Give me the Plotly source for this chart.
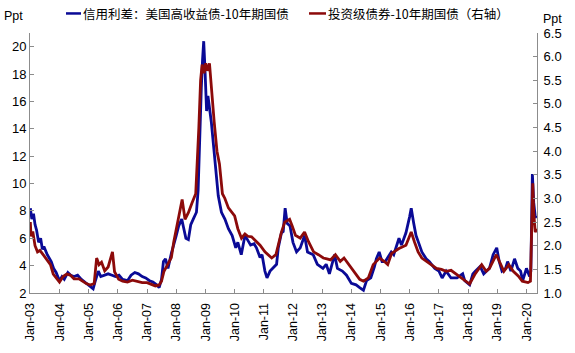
import plotly.graph_objects as go

# 信用利差：美国高收益债-10年期国债 (左轴, Ppt)
hy_dates = [
    "2003-01-01", "2003-01-20", "2003-02-10", "2003-03-01", "2003-03-20", "2003-04-15", "2003-05-10",
    "2003-06-01", "2003-06-20", "2003-08-01", "2003-09-20", "2003-10-20", "2003-11-20", "2004-01-01",
    "2004-02-01", "2004-03-01", "2004-04-15", "2004-05-20", "2004-07-01", "2004-08-15", "2004-10-01",
    "2004-11-15", "2005-01-01", "2005-02-25", "2005-03-20", "2005-05-01", "2005-06-01", "2005-07-15",
    "2005-09-01", "2005-10-20", "2005-12-01", "2006-01-15", "2006-03-01", "2006-05-01", "2006-06-15",
    "2006-08-01", "2006-09-15", "2006-11-01", "2006-12-15", "2007-02-01", "2007-03-15", "2007-05-01",
    "2007-06-01", "2007-07-01", "2007-07-25", "2007-08-20", "2007-09-20", "2007-11-01", "2007-11-25",
    "2008-01-01", "2008-02-01", "2008-03-10", "2008-04-01", "2008-05-01", "2008-06-01", "2008-07-01",
    "2008-08-01", "2008-09-10", "2008-10-01", "2008-10-20", "2008-11-10", "2008-11-25", "2008-12-10",
    "2008-12-25", "2009-01-15", "2009-02-01", "2009-03-15", "2009-04-10", "2009-05-10", "2009-06-10",
    "2009-07-20", "2009-09-01", "2009-10-15", "2009-12-01", "2010-01-15", "2010-02-10", "2010-03-25",
    "2010-05-10", "2010-06-10", "2010-07-20", "2010-09-01", "2010-10-01", "2010-11-15", "2010-12-10",
    "2011-01-15", "2011-02-10", "2011-03-20", "2011-05-01", "2011-06-10", "2011-07-01", "2011-08-10",
    "2011-09-01", "2011-09-25", "2011-10-20", "2011-11-25", "2012-01-01", "2012-02-15", "2012-04-01",
    "2012-05-25", "2012-07-01", "2012-09-10", "2012-11-01", "2013-01-10", "2013-02-20", "2013-04-01",
    "2013-06-05", "2013-07-10", "2013-09-10", "2013-11-01", "2014-01-01", "2014-03-01", "2014-04-15",
    "2014-06-01", "2014-07-10", "2014-09-01", "2014-10-15", "2014-11-10", "2014-12-15", "2015-01-20",
    "2015-03-01", "2015-05-15", "2015-06-15", "2015-08-20", "2015-09-20", "2015-11-15", "2016-01-01",
    "2016-01-20", "2016-02-20", "2016-03-20", "2016-04-20", "2016-06-01", "2016-07-25", "2016-09-01",
    "2016-11-10", "2017-01-01", "2017-02-10", "2017-04-01", "2017-06-01", "2017-08-15", "2017-10-25",
    "2017-11-20", "2018-01-20", "2018-03-01", "2018-04-01", "2018-06-01", "2018-07-15", "2018-09-25",
    "2018-11-10", "2018-12-25", "2019-01-25", "2019-03-01", "2019-04-15", "2019-05-10", "2019-06-20",
    "2019-08-05", "2019-09-15", "2019-10-20", "2019-11-15", "2020-01-01", "2020-02-10", "2020-02-25",
    "2020-03-15", "2020-04-01", "2020-04-20", "2020-05-10",
]
hy_values = [
    8.2, 7.4, 7.8, 7.0, 6.6, 5.7, 6.0,
    5.2, 5.4, 4.8, 4.3, 3.8, 3.5, 2.9,
    3.2, 3.0, 3.5, 3.3, 3.2, 3.3, 3.0,
    2.8, 2.6, 2.3, 2.8, 3.6, 3.2, 3.3,
    3.4, 3.3, 3.2, 3.3, 3.0, 2.9, 3.3,
    3.5, 3.4, 3.2, 3.1, 2.9, 2.8, 2.6,
    2.4, 3.0, 4.3, 4.5, 3.8, 4.9, 5.5,
    6.2, 6.9, 7.4, 6.8, 6.0, 5.9, 7.0,
    7.4, 7.9, 9.5, 13.5, 17.0, 19.0, 20.4,
    18.5, 15.3, 16.4, 14.5, 12.9, 11.2, 9.1,
    7.9, 7.4, 6.7, 6.2, 5.3, 5.7, 4.8,
    6.2, 5.9, 5.5, 5.6, 5.3, 4.6, 4.8,
    3.6, 3.1, 3.6, 3.9, 4.1, 5.3, 6.4,
    6.5, 8.2, 7.1, 6.9, 5.7, 5.0, 5.3,
    6.2, 5.0, 4.8, 4.1, 3.8, 4.1, 3.4,
    4.8, 3.8, 3.6, 3.3, 2.7, 2.6, 2.4,
    2.2, 2.9, 3.1, 3.9, 4.5, 5.0, 4.3,
    4.3, 5.0, 4.8, 6.0, 5.5, 6.4, 7.6,
    8.2, 7.1, 6.2, 5.7, 5.0, 4.5, 4.3,
    3.8, 3.6, 3.1, 3.6, 3.1, 3.1, 3.4,
    2.9, 2.6, 3.4, 3.6, 3.95, 3.4, 3.8,
    4.8, 5.3, 4.3, 3.6, 3.8, 4.3, 3.6,
    4.5, 3.8, 3.6, 2.9, 3.8, 3.2, 3.6,
    10.7, 8.6, 7.6, 7.5,
]

# 投资级债券-10年期国债 (右轴, Ppt)
ig_dates = [
    "2003-01-01", "2003-01-10", "2003-02-01", "2003-03-01", "2003-04-01", "2003-05-01", "2003-06-15",
    "2003-08-01", "2003-09-10", "2003-10-15", "2003-12-01", "2004-01-01", "2004-02-15", "2004-04-01",
    "2004-05-15", "2004-07-01", "2004-09-01", "2004-10-15", "2004-12-01", "2005-01-20", "2005-03-10",
    "2005-04-10", "2005-05-10", "2005-06-10", "2005-07-20", "2005-09-01", "2005-10-25", "2005-11-20",
    "2006-01-10", "2006-03-01", "2006-05-01", "2006-07-01", "2006-09-01", "2006-11-01", "2007-01-01",
    "2007-03-01", "2007-04-15", "2007-06-01", "2007-07-01", "2007-08-01", "2007-09-15", "2007-11-01",
    "2007-12-01", "2008-01-20", "2008-03-15", "2008-04-20", "2008-06-01", "2008-07-15", "2008-09-01",
    "2008-10-10", "2008-11-01", "2008-11-20", "2008-12-15", "2009-01-05", "2009-01-25", "2009-02-20",
    "2009-03-20", "2009-04-20", "2009-05-25", "2009-06-25", "2009-08-01", "2009-09-01", "2009-10-15",
    "2009-12-01", "2010-01-01", "2010-02-10", "2010-03-28", "2010-05-10", "2010-06-15", "2010-08-01",
    "2010-09-20", "2010-11-15", "2011-01-15", "2011-04-10", "2011-06-01", "2011-08-10", "2011-09-20",
    "2011-11-20", "2011-12-20", "2012-02-01", "2012-04-01", "2012-05-25", "2012-07-15", "2012-09-15",
    "2012-11-15", "2013-01-15", "2013-03-01", "2013-04-15", "2013-06-15", "2013-08-15", "2013-10-01",
    "2013-12-01", "2014-02-01", "2014-04-15", "2014-06-01", "2014-08-01", "2014-10-01", "2014-12-20",
    "2015-02-15", "2015-04-01", "2015-05-20", "2015-08-20", "2015-11-15", "2016-01-20", "2016-03-01",
    "2016-04-15", "2016-06-01", "2016-08-01", "2016-10-01", "2016-12-01", "2017-02-01", "2017-04-01",
    "2017-06-01", "2017-08-15", "2017-10-15", "2017-12-15", "2018-01-20", "2018-03-25", "2018-06-20",
    "2018-08-15", "2018-09-25", "2018-12-20", "2019-02-01", "2019-03-25", "2019-05-25", "2019-07-20",
    "2019-09-20", "2019-11-10", "2020-01-20", "2020-02-20", "2020-03-20", "2020-04-01", "2020-04-20",
    "2020-05-10",
]
ig_values = [
    2.5, 2.2, 2.3, 2.0, 1.87, 1.9, 1.8,
    1.69, 1.6, 1.4, 1.3, 1.23, 1.35, 1.4,
    1.38, 1.3, 1.3, 1.25, 1.2, 1.17, 1.2,
    1.74, 1.6, 1.65, 1.47, 1.55, 1.87, 1.45,
    1.29, 1.25, 1.23, 1.27, 1.25, 1.22, 1.22,
    1.18, 1.15, 1.17, 1.25, 1.46, 1.6, 1.75,
    2.08, 2.5, 2.98, 2.56, 2.7, 2.9, 3.1,
    4.5, 5.5, 5.83, 5.65, 5.86, 5.7, 5.86,
    5.18, 4.62, 4.0, 3.73, 3.1, 3.0, 2.8,
    2.7, 2.63, 2.36, 2.16, 2.25, 2.2, 2.19,
    2.1, 2.01, 1.87, 1.74, 1.81, 2.29, 2.5,
    2.56, 2.43, 2.22, 2.16, 2.29, 2.08, 1.87,
    1.81, 1.74, 1.72, 1.7, 1.81, 1.67, 1.74,
    1.6, 1.46, 1.29, 1.25, 1.32, 1.6, 1.74,
    1.67, 1.6, 1.84, 1.94, 2.01, 2.29, 2.08,
    1.87, 1.74, 1.67, 1.6, 1.52, 1.5, 1.46,
    1.48, 1.39, 1.32, 1.25, 1.19, 1.39, 1.6,
    1.46, 1.52, 1.81, 1.64, 1.46, 1.6, 1.46,
    1.36, 1.25, 1.22, 1.25, 3.32, 2.7, 2.29,
    2.36,
]

hy_name = "信用利差：美国高收益债-10年期国债"
ig_name = "投资级债券-10年期国债（右轴）"
blue = "#0a0a96"
red = "#8c0a0a"
axis_col = "#8c8c8c"
font_fam = "Liberation Sans, Arial, sans-serif"
cjk_fam = "Noto Sans CJK SC, sans-serif"

fig = go.Figure()
fig.add_trace(go.Scatter(x=hy_dates, y=hy_values, mode="lines", name=hy_name,
                         line=dict(color=blue, width=2.8), yaxis="y"))
fig.add_trace(go.Scatter(x=ig_dates, y=ig_values, mode="lines", name=ig_name,
                         line=dict(color=red, width=2.8), yaxis="y2"))

fig.update_layout(
    width=575, height=353,
    margin=dict(l=30, r=38, t=33, b=54),
    plot_bgcolor="white", paper_bgcolor="white",
    showlegend=False,
    font=dict(family=font_fam, size=12, color="black"),
    xaxis=dict(
        type="date", range=["2002-12-28", "2020-05-12"],
        tick0="2003-01-01", dtick="M12", tickformat="%b-%y", tickangle=-90,
        ticks="inside", ticklen=4, tickcolor=axis_col, ticklabelstandoff=4,
        showline=True, linecolor=axis_col, linewidth=1, showgrid=False, zeroline=False,
        tickfont=dict(size=12.5),
    ),
    yaxis=dict(
        range=[2, 21], tick0=2, dtick=2, ticks="inside", ticklen=4, tickcolor=axis_col,
        showline=True, linecolor=axis_col, linewidth=1, showgrid=False, zeroline=False,
        tickfont=dict(size=13),
    ),
    yaxis2=dict(
        range=[1, 6.5], tick0=1, dtick=0.5, tickformat=".1f", overlaying="y", side="right",
        ticks="inside", ticklen=4, tickcolor=axis_col, ticklabelstandoff=3,
        showline=True, linecolor=axis_col, linewidth=1, showgrid=False, zeroline=False,
        tickfont=dict(size=13),
    ),
)

# legend drawn at top
def px(v):
    return (v - 30) / 507

leg_y = 1 + 20 / 266
fig.add_shape(type="line", xref="paper", yref="paper", x0=px(66), x1=px(81),
              y0=leg_y, y1=leg_y, line=dict(color=blue, width=2.5))
fig.add_shape(type="line", xref="paper", yref="paper", x0=px(309), x1=px(326),
              y0=leg_y, y1=leg_y, line=dict(color=red, width=2.5))
fig.add_annotation(text=hy_name, xref="paper", yref="paper", x=px(81), y=leg_y,
                   xanchor="left", yanchor="middle", showarrow=False,
                   font=dict(family=cjk_fam, size=12.5, color="black"))
fig.add_annotation(text=ig_name, xref="paper", yref="paper", x=px(326), y=leg_y,
                   xanchor="left", yanchor="middle", showarrow=False,
                   font=dict(family=cjk_fam, size=12.5, color="black"))
fig.add_annotation(text="Ppt", xref="paper", yref="paper", x=px(2), y=1 + 17 / 266,
                   xanchor="left", yanchor="middle", showarrow=False, font=dict(size=12.5))
fig.add_annotation(text="Ppt", xref="paper", yref="paper", x=px(541), y=1 + 14 / 266,
                   xanchor="left", yanchor="middle", showarrow=False, font=dict(size=12.5))

fig.write_html("out.html")
